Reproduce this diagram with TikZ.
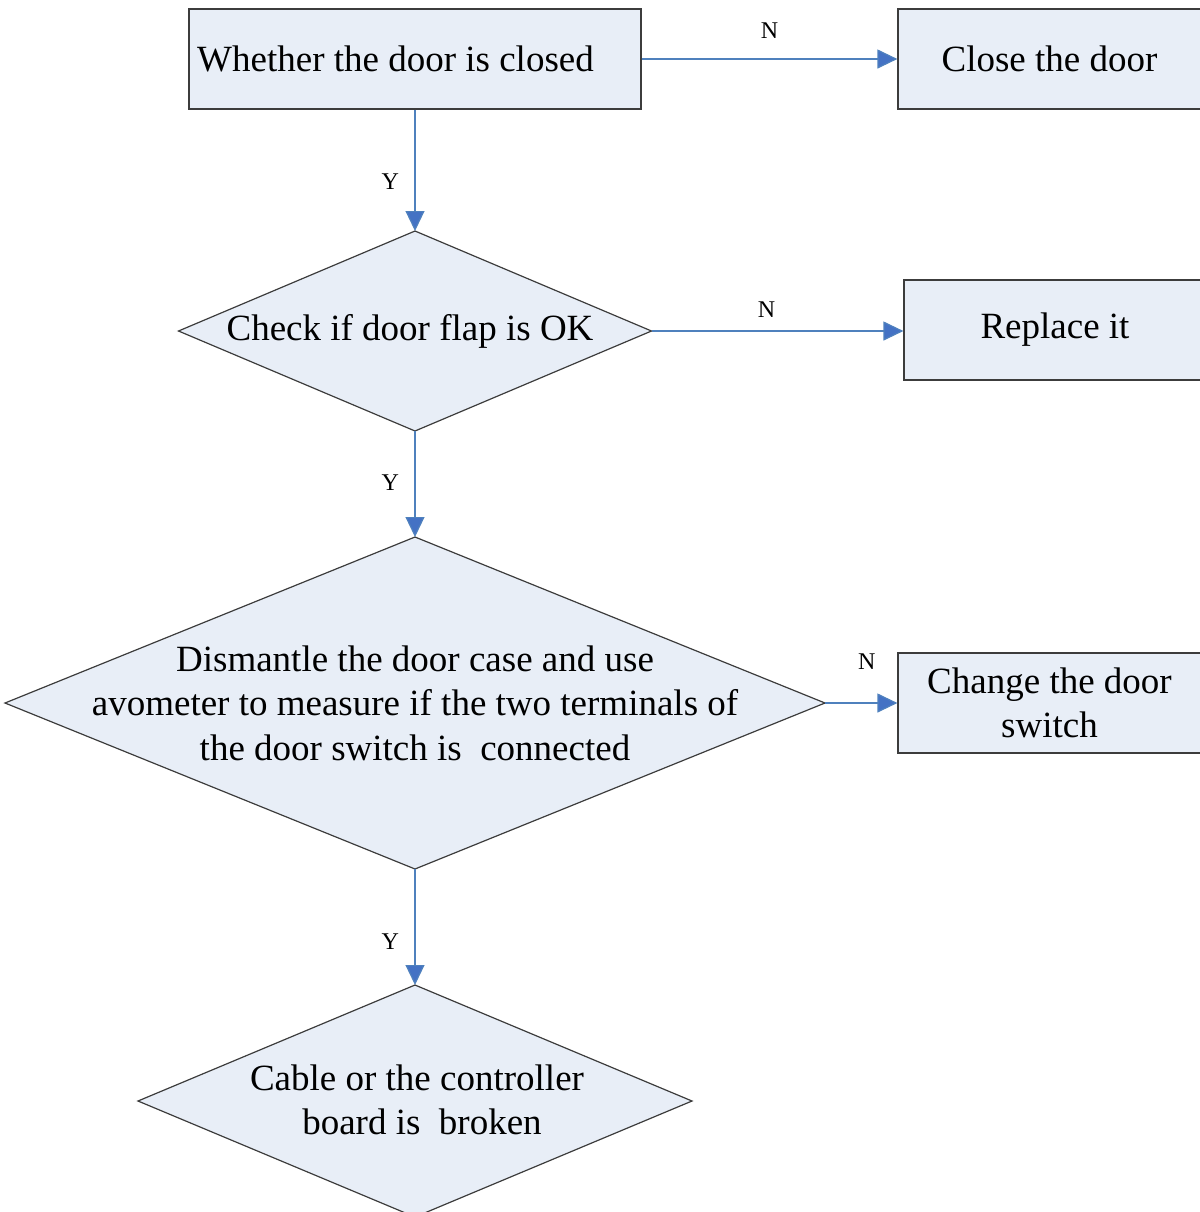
\documentclass[tikz,border=0pt]{standalone}
\usepackage{fontspec}
\setmainfont{Liberation Serif}
\usetikzlibrary{shapes.geometric,arrows.meta}
\definecolor{boxfill}{RGB}{232,238,247}
\definecolor{boxline}{RGB}{60,60,60}
\definecolor{flowblue}{RGB}{79,129,189}
\definecolor{tipblue}{RGB}{68,114,196}

\begin{document}
\begin{tikzpicture}[x=0.5pt, y=-0.5pt,
  txt/.style={font=\fontsize{18.5}{22.2}\selectfont, align=center, inner sep=0pt},
  box/.style={txt, draw=boxline, fill=boxfill, line width=0.6pt, minimum height=50pt},
  dia/.style={diamond, draw=boxline, fill=boxfill, line width=0.6pt, inner sep=0pt, outer sep=0pt},
  flow/.style={draw=flowblue, line width=0.6pt, -{Triangle[length=10pt, width=9.5pt, fill=tipblue]}},
  lbl/.style={font=\fontsize{12}{14}\selectfont, inner sep=0pt, text=black}
]
\useasboundingbox (0,0) rectangle (1200,1212);

\node [box, minimum width=226pt] (ask) at (415,59) {Whether the door is closed\hspace*{19.5pt}};
\node [box, minimum width=151.5pt] (close) at (1049.5,59) {Close the door};

\node [dia, minimum width=236.5pt, minimum height=100pt] (flap) at (415,331) {};
\node [txt] (flap-txt) at (410,331) {Check if door flap is OK};
\node [box, minimum width=148.5pt] (replace) at (1052.5,330) {\hspace*{2.5pt}Replace it};

\node [dia, minimum width=410pt, minimum height=166pt] (meter) at (415,703) {};
\node [txt] (meter-txt) at (415,703) {Dismantle the door case and use\\avometer to measure if the two terminals of\\the door switch is~ connected};
\node [box, minimum width=151.5pt] (change) at (1049.5,703) {Change the door\\switch};

\node [dia, minimum width=277pt, minimum height=116pt] (broken) at (415,1101) {};
\node [txt] (broken-txt) at (417,1100) {Cable or the controller\\\hspace*{5pt}board is~ broken};

\draw [flow] (ask.east) -- node [lbl, above=10pt] {N} (close.west);
\draw [flow] (ask.south) -- node [lbl, pos=0.59, left=7.7pt] {Y} (flap.north);
\draw [flow] (flap.east) -- node [lbl, above=6.5pt, xshift=-5.5pt] {N} (flap.east -| replace.west);
\draw [flow] (flap.south) -- node [lbl, pos=0.49, left=7.7pt] {Y} (meter.north);
\draw [flow] (meter.east) -- node [lbl, above=16.5pt, xshift=2.75pt] {N} (change.west);
\draw [flow] (meter.south) -- node [lbl, pos=0.63, left=7.7pt] {Y} (broken.north);
\end{tikzpicture}
\end{document}
